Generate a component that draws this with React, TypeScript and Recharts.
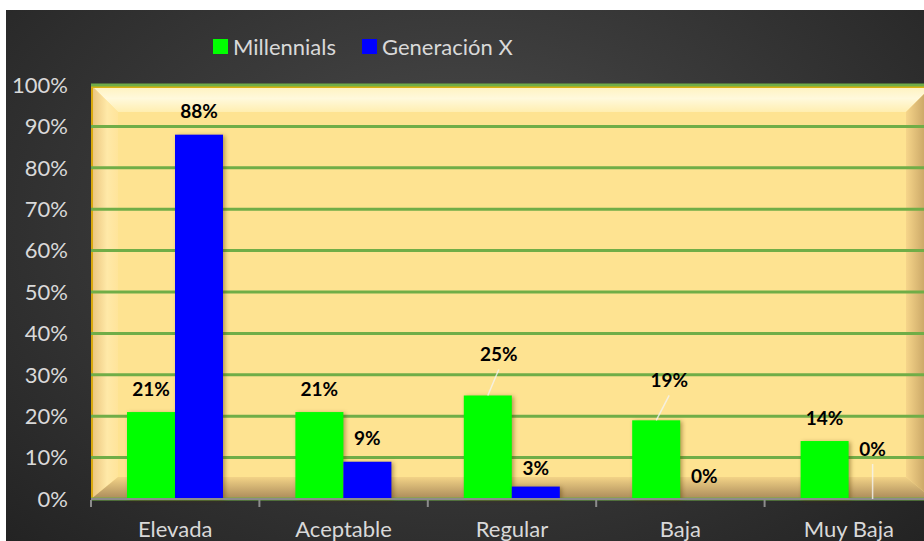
import { BarChart, Bar, XAxis, YAxis, CartesianGrid, LabelList } from 'recharts'

const categorias = ['Elevada', 'Aceptable', 'Regular', 'Baja', 'Muy Baja']
const millennials = [0.21, 0.21, 0.25, 0.19, 0.14]
const generacionX = [0.88, 0.09, 0.03, 0, 0]
const yTicks = [0, 0.1, 0.2, 0.3, 0.4, 0.5, 0.6, 0.7, 0.8, 0.9, 1]

const SERIES = [
  { key: 'millennials', nombre: 'Millennials', color: '#00ff00' },
  { key: 'genX', nombre: 'Generación X', color: '#0000ff' },
]

// etiquetas movidas a mano en el original (las que suben llevan línea guía)
const NUDGE_MILL: Record<number, { dx: number; lift: number }> = {
  2: { dx: 11, lift: 18 },
  3: { dx: 13, lift: 17 },
}
const NUDGE_GENX: Record<number, { dx: number; lift: number }> = {
  2: { dx: 0, lift: -5 },
  4: { dx: 0, lift: 27 },
}

const FONT = 'Lato, "Open Sans", sans-serif'
const W = 940
const H = 541
const M = { top: 85, right: 7, bottom: 0, left: 0 }
const Y_AXIS_W = 91
const X_AXIS_H = 42
const PLOT_X = M.left + Y_AXIS_W
const PLOT_W = W - M.right - PLOT_X
const PLOT_H = H - M.top - M.bottom - X_AXIS_H
const BAND = PLOT_W / categorias.length

const data = categorias.map((c, i) => ({
  categoria: c,
  millennials: millennials[i],
  genX: generacionX[i],
}))

function pct(v: number) {
  return `${Math.round(v * 100)}%`
}

function makeLabel(nudges: Record<number, { dx: number; lift: number }>) {
  return function Etiqueta(props: any) {
    const { x, y, width, value, index } = props
    const cx = Number(x) + Number(width) / 2
    const top = Number(y)
    const n = nudges[index]
    const lift = n ? n.lift : 0
    const dx = n ? n.dx : 0
    const ly = top - 24 - lift
    return (
      <g>
        {lift > 0 && (
          <line
            x1={cx}
            y1={top}
            x2={cx + dx}
            y2={ly + 16}
            stroke="#f2f2f2"
            strokeOpacity={0.8}
            strokeWidth={1.5}
          />
        )}
        <text
          x={cx + dx}
          y={ly}
          textAnchor="middle"
          dominantBaseline="central"
          fontFamily={FONT}
          fontSize={19}
          fontWeight={700}
          fill="#000"
        >
          {pct(Number(value))}
        </text>
      </g>
    )
  }
}

function BarraSombra(props: any) {
  const { x, y, width, height, fill } = props
  if (!height || height <= 0) return null
  return (
    <rect
      x={x}
      y={y}
      width={width}
      height={height}
      fill={fill}
      style={{ filter: 'drop-shadow(2px 1px 2px rgba(90,60,0,0.45))' }}
    />
  )
}

function TickX(props: any) {
  const { x, y, payload } = props
  const left = Number(x) - BAND / 2
  return (
    <g>
      <line x1={left} y1={y + 1} x2={left} y2={y + 8} stroke="#8c8c8c" strokeWidth={2} />
      <text
        x={x}
        y={y + 38}
        textAnchor="middle"
        fontFamily={FONT}
        fontSize={22}
        fill="#d9d9d9"
      >
        {payload.value}
      </text>
    </g>
  )
}

function Leyenda() {
  return (
    <div
      style={{
        position: 'absolute',
        left: 213,
        top: 33,
        display: 'flex',
        alignItems: 'center',
        fontFamily: FONT,
        fontSize: 22,
        color: '#d9d9d9',
        whiteSpace: 'nowrap',
      }}
    >
      {SERIES.map((s) => (
        <div key={s.key} style={{ display: 'flex', alignItems: 'center', marginRight: 26 }}>
          <span style={{ width: 15, height: 15, background: s.color, marginRight: 5, display: 'inline-block' }} />
          <span>{s.nombre}</span>
        </div>
      ))}
    </div>
  )
}

function Pared() {
  const w = PLOT_W
  const h = PLOT_H
  const b = 27
  const bb = 22
  return (
    <svg
      width={w}
      height={h}
      style={{ position: 'absolute', left: PLOT_X, top: M.top }}
    >
      <defs>
        <linearGradient id="gTop" x1="0" y1="0" x2="0" y2="1">
          <stop offset="0" stopColor="#fff1bb" />
          <stop offset="0.5" stopColor="#fff9dc" />
          <stop offset="1" stopColor="#ffeeb0" />
        </linearGradient>
        <linearGradient id="gLeft" x1="0" y1="0" x2="1" y2="0">
          <stop offset="0" stopColor="#e9c27a" />
          <stop offset="0.6" stopColor="#ffe9a8" />
          <stop offset="1" stopColor="#ffe49a" />
        </linearGradient>
        <linearGradient id="gRight" x1="0" y1="0" x2="1" y2="0">
          <stop offset="0" stopColor="#f6d58a" />
          <stop offset="1" stopColor="#b89458" />
        </linearGradient>
        <linearGradient id="gBottom" x1="0" y1="0" x2="0" y2="1">
          <stop offset="0" stopColor="#f3d387" />
          <stop offset="1" stopColor="#a98a5a" />
        </linearGradient>
      </defs>
      <rect x={0} y={0} width={w} height={h} fill="#fee391" />
      <polygon points={`0,0 ${w},0 ${w - b},${b} ${b},${b}`} fill="url(#gTop)" />
      <polygon points={`0,0 ${b},${b} ${b},${h - bb} 0,${h}`} fill="url(#gLeft)" />
      <polygon points={`${w},0 ${w},${h} ${w - b},${h - bb} ${w - b},${b}`} fill="url(#gRight)" />
      <polygon points={`0,${h} ${b},${h - bb} ${w - b},${h - bb} ${w},${h}`} fill="url(#gBottom)" />
      <line x1={1} y1={0} x2={1} y2={h} stroke="#d9a90f" strokeWidth={2} />
      <line x1={0} y1={2} x2={w} y2={2} stroke="#d9b00f" strokeWidth={2} />
    </svg>
  )
}

export default function App() {
  return (
    <div style={{ position: 'relative', width: 924, height: 541, overflow: 'hidden', background: '#ffffff' }}>
      <style>{'body{margin:0}'}</style>
      <div
        style={{
          position: 'absolute',
          left: 6,
          top: 10,
          width: 918,
          height: 531,
          background: 'radial-gradient(ellipse at 50% 40%, #4e4e4e 0%, #3a3a3a 45%, #232323 100%)',
        }}
      />
      <Pared />
      <Leyenda />
      <div style={{ position: 'absolute', left: 0, top: 0 }}>
        <BarChart width={W} height={H} data={data} margin={M} barSize={48} barGap={0}>
          <CartesianGrid vertical={false} stroke="#70ad47" strokeWidth={3} />
          <XAxis
            dataKey="categoria"
            axisLine={{ stroke: '#8c8c8c', strokeWidth: 2 }}
            tickLine={false}
            tickSize={0}
            tickMargin={0}
            height={X_AXIS_H}
            tick={<TickX />}
            interval={0}
          />
          <YAxis
            domain={[0, 1]}
            ticks={yTicks}
            tickFormatter={pct}
            axisLine={false}
            tickLine={false}
            tickSize={0}
            tickMargin={23}
            width={Y_AXIS_W}
            tick={{ fill: '#d9d9d9', fontSize: 22, fontFamily: FONT }}
            interval={0}
          />
          <Bar dataKey="millennials" fill={SERIES[0].color} shape={<BarraSombra />} isAnimationActive={false}>
            <LabelList dataKey="millennials" content={makeLabel(NUDGE_MILL)} />
          </Bar>
          <Bar dataKey="genX" fill={SERIES[1].color} shape={<BarraSombra />} isAnimationActive={false}>
            <LabelList dataKey="genX" content={makeLabel(NUDGE_GENX)} />
          </Bar>
        </BarChart>
      </div>
    </div>
  )
}
